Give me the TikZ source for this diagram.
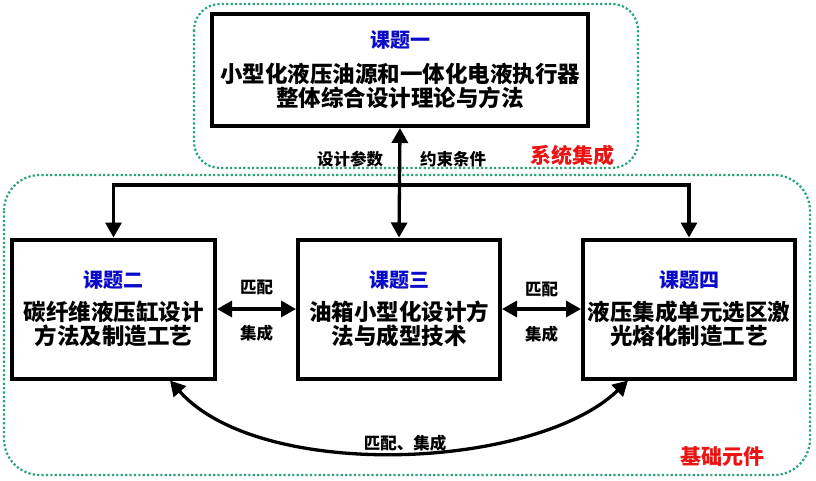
\documentclass[tikz,border=0pt]{standalone}
\usepackage{fontspec}
\setmainfont{Noto Sans CJK SC}[BoldFont={Noto Sans CJK SC Black}]
\usetikzlibrary{positioning, calc, arrows.meta}
\usepackage{xcolor}
\definecolor{dotgreen}{RGB}{40,165,115}
\definecolor{titleblue}{RGB}{10,10,200}
\definecolor{tagred}{RGB}{235,20,20}
\tikzset{topic/.style={draw, line width=4pt, fill=white, align=center, inner sep=0pt, font=\bfseries\fontsize{22.5}{24}\selectfont}}
\tikzset{link/.style={line width=3.3pt, {Triangle[length=15pt,width=16pt]}-{Triangle[length=15pt,width=16pt]}}}
\tikzset{feed/.style={line width=3.3pt, -{Triangle[length=15pt,width=16pt]}}}
\tikzset{group/.style={draw=dotgreen, line width=2.2pt, dash pattern=on 2.2pt off 2.2pt}}
\tikzset{note/.style={font=\bfseries\fontsize{16.5}{18}\selectfont}}
\tikzset{tag/.style={font=\bfseries\fontsize{21}{24}\selectfont, text=tagred}}
\newcommand{\topictitle}[1]{{\fontsize{20}{24}\selectfont\color{titleblue}#1}}

\begin{document}
\begin{tikzpicture}[x=1pt, y=-1pt]
          \fill[white] (0,0) rectangle (816,480);
          \useasboundingbox (0,0) rectangle (816,480);

          \draw[group, rounded corners=26pt] (194,4) rectangle (638,168);
          \draw[group, rounded corners=36pt] (4,175) rectangle (810,475);

          \node[topic, minimum width=376pt, minimum height=112pt] (t1) at (400,70)
          {\topictitle{课题一}\\[11pt]小型化液压油源和一体化电液执行器\\整体综合设计理论与方法};

          \node[topic, minimum width=203pt, minimum height=139pt] (t2) at (113.5,309)
          {\topictitle{课题二}\\[9pt]碳纤维液压缸设计\\方法及制造工艺};

          \node[topic, minimum width=202pt, minimum height=139pt] (t3) at (399,309)
          {\topictitle{课题三}\\[9pt]油箱小型化设计方\\法与成型技术};

          \node[topic, minimum width=212pt, minimum height=139pt] (t4) at (689,309)
          {\topictitle{课题四}\\[9pt]液压集成单元选区激\\光熔化制造工艺};

          \coordinate (bus) at ($(t1.south)!0.52!(t3.north)$);
          \draw[link] (t1.south) -- (t3.north);
          \draw[feed] (bus) -| (t2.north);
          \draw[feed] (bus) -| (t4.north);

          \draw[link] (t2.east) -- (t3.west);
          \draw[link] (t3.east) -- (t4.west);

          \draw[link] ($(t2.south east)+(-47,0)$) .. controls (260,482) and (535,470) .. ($(t4.south west)+(47,0)$);

          \node[note] (labelparam) at ($(t1.south)+(-50,31)$) {设计参数};
          \node[note] (labelcons) at ($(t1.south)+(53,31)$) {约束条件};
          \node[tag] (labelsys) at ($(t1.south east)+(-18,27)$) {系统集成};

          \node[note] (labelm23) at ($($(t2.east)!0.5!(t3.west)$)+(0,-22)$) {匹配};
          \node[note] (labeli23) at ($($(t2.east)!0.5!(t3.west)$)+(0,24)$) {集成};
          \node[note] (labelm34) at ($($(t3.east)!0.5!(t4.west)$)+(0,-20)$) {匹配};
          \node[note] (labeli34) at ($($(t3.east)!0.5!(t4.west)$)+(0,25)$) {集成};

          \node[note] (labelall) at ($(t3.south)+(6,63)$) {匹配、集成};
          \node[tag] (labelbase) at ($(t4.south east)+(-75,76)$) {基础元件};
        \end{tikzpicture}
\end{document}
